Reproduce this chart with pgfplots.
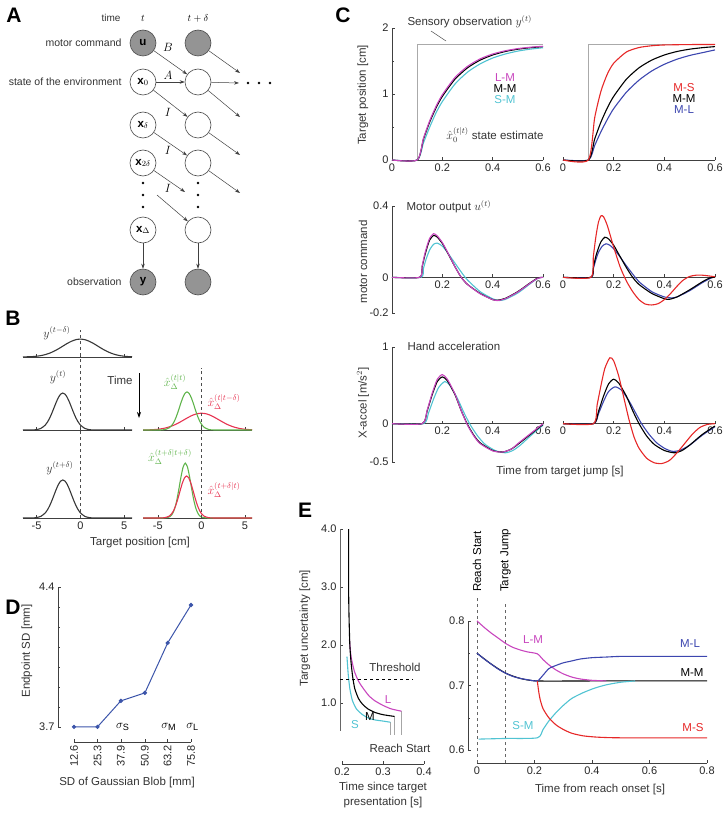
\documentclass[border=0pt]{standalone}
\usepackage{pgfplots}
\pgfplotsset{compat=1.18}
\usepackage{fontspec}
\setmainfont{Liberation Sans}
\usetikzlibrary{arrows.meta}
\definecolor{cmag}{RGB}{200,70,190}
\definecolor{ccyan}{RGB}{80,195,210}
\definecolor{cred}{RGB}{230,40,40}
\definecolor{cblue}{RGB}{60,70,175}
\definecolor{cgreen}{RGB}{95,180,75}
\definecolor{cbred}{RGB}{230,50,80}
\definecolor{cgray}{RGB}{170,170,170}
\definecolor{cdblue}{RGB}{60,85,170}
\definecolor{cdark}{RGB}{55,55,55}

\pgfplotsset{
  base/.style={scale only axis, clip=false, anchor=south west,
    axis line style={black!75}, tick style={black!75, line width=0.4pt},
    tick align=inside, major tick length=3pt, minor tick length=2pt,
    tick label style={font=\fontsize{11}{12}\selectfont, black!85},
    /pgf/number format/assume math mode=true},
  crv/.style={line width=1.1pt, smooth, tension=0.4, mark=none},
  bst/.style={base, width=109pt, height=56pt, ymin=0, ymax=1,
    axis x line*=bottom, axis y line=none, xtick={-5,0,5}},
  cst/.style={base, xmin=0, xmax=0.6},
}

\begin{document}
\begin{tikzpicture}
\path[use as bounding box] (0,0) rectangle (725pt,-813pt);

% ---------------- B ----------------
\begin{axis}[bst, at={(23pt,-357pt)}, xmin=-6.55, xmax=5.9, xticklabels={}]
\addplot[crv, cdark] coordinates {(-6.55,0.002)(-6,0.004)(-5.5,0.007)(-5,0.014)(-4.5,0.025)(-4,0.043)(-3.5,0.069)(-3,0.104)(-2.5,0.146)(-2,0.194)(-1.5,0.242)(-1,0.282)(-0.5,0.310)(0,0.320)(0.5,0.310)(1,0.282)(1.5,0.242)(2,0.194)(2.5,0.146)(3,0.104)(3.5,0.069)(4,0.043)(4.5,0.025)(5,0.014)(5.5,0.007)(5.9,0.004)};
\end{axis}
\begin{axis}[bst, at={(23pt,-430pt)}, xmin=-6.55, xmax=5.9, xticklabels={}]
\addplot[crv, cdark] coordinates {(-6.55,0)(-5.5,0.001)(-5,0.007)(-4.5,0.029)(-4,0.089)(-3.75,0.143)(-3.5,0.214)(-3.25,0.302)(-3,0.400)(-2.75,0.498)(-2.5,0.582)(-2.25,0.640)(-2,0.660)(-1.75,0.640)(-1.5,0.582)(-1.25,0.498)(-1,0.400)(-0.75,0.302)(-0.5,0.214)(-0.25,0.143)(0,0.089)(0.5,0.029)(1,0.007)(1.5,0.001)(2.5,0)(5.9,0)};
\end{axis}
\begin{axis}[bst, at={(23pt,-518pt)}, xmin=-6.55, xmax=5.9]
\addplot[crv, cdark] coordinates {(-6.55,0)(-5.5,0.001)(-5,0.008)(-4.5,0.030)(-4,0.092)(-3.75,0.147)(-3.5,0.221)(-3.25,0.311)(-3,0.412)(-2.75,0.513)(-2.5,0.600)(-2.25,0.659)(-2,0.680)(-1.75,0.659)(-1.5,0.600)(-1.25,0.513)(-1,0.412)(-0.75,0.311)(-0.5,0.221)(-0.25,0.147)(0,0.092)(0.5,0.030)(1,0.008)(1.5,0.001)(2.5,0)(5.9,0)};
\draw[dashed, black!70] (axis cs:0,0) -- (axis cs:0,3.36);
\end{axis}
\begin{axis}[bst, at={(143pt,-430pt)}, xmin=-6.7, xmax=5.8, xticklabels={}]
\addplot[crv, cbred] coordinates {(-6.7,0.002)(-6.5,0.002)(-6,0.003)(-5.5,0.007)(-5,0.013)(-4.5,0.024)(-4,0.041)(-3.5,0.065)(-3,0.097)(-2.5,0.137)(-2,0.182)(-1.5,0.226)(-1,0.265)(-0.5,0.291)(0,0.300)(0.5,0.291)(1,0.265)(1.5,0.226)(2,0.182)(2.5,0.137)(3,0.097)(3.5,0.065)(4,0.041)(4.5,0.024)(5,0.013)(5.5,0.007)(5.8,0.004)};
\addplot[crv, cgreen] coordinates {(-6.7,0)(-5.5,0)(-4.65,0.001)(-4.15,0.009)(-3.65,0.043)(-3.4,0.082)(-3.15,0.143)(-2.9,0.231)(-2.65,0.340)(-2.4,0.461)(-2.15,0.572)(-1.9,0.651)(-1.65,0.680)(-1.4,0.651)(-1.15,0.572)(-0.9,0.461)(-0.65,0.340)(-0.4,0.231)(-0.15,0.143)(0.1,0.082)(0.35,0.043)(0.85,0.009)(1.35,0.001)(2.2,0)(5.8,0)};
\end{axis}
\begin{axis}[bst, at={(143pt,-518pt)}, xmin=-6.7, xmax=5.8]
\addplot[crv, cgreen] coordinates {(-6.7,0)(-4.85,0)(-4.35,0.001)(-3.85,0.009)(-3.6,0.026)(-3.35,0.068)(-3.1,0.154)(-2.85,0.300)(-2.6,0.504)(-2.35,0.729)(-2.1,0.910)(-1.85,0.980)(-1.6,0.910)(-1.35,0.729)(-1.1,0.504)(-0.85,0.300)(-0.6,0.154)(-0.35,0.068)(-0.1,0.026)(0.15,0.009)(0.65,0.001)(1.15,0)(5.8,0)};
\addplot[crv, cbred] coordinates {(-6.7,0)(-5.5,0)(-4.7,0.001)(-4.2,0.006)(-3.7,0.033)(-3.45,0.069)(-3.2,0.129)(-2.95,0.221)(-2.7,0.344)(-2.45,0.484)(-2.2,0.617)(-1.95,0.714)(-1.7,0.750)(-1.45,0.714)(-1.2,0.617)(-0.95,0.484)(-0.7,0.344)(-0.45,0.221)(-0.2,0.129)(0.05,0.069)(0.3,0.033)(0.8,0.006)(1.3,0.001)(2,0)(5.8,0)};
\draw[dashed, black!70] (axis cs:0,0) -- (axis cs:0,2.68);
\end{axis}

% ---------------- C ----------------
\begin{axis}[cst, at={(392pt,-160pt)}, width=151pt, height=132pt, ymin=0, ymax=2,
  axis x line*=bottom, axis y line*=left, xtick={0,0.2,0.4,0.6}, ytick={0,1,2}, minor ytick={0.5,1.5}]
\addplot[cgray, line width=1pt] coordinates {(0.1,0)(0.1,1.75)(0.6,1.75)};
\addplot[crv, ccyan] coordinates {(0,0)(0.1,0)(0.125,0.26)(0.15,0.50)(0.175,0.715)(0.2,0.885)(0.25,1.150)(0.3,1.331)(0.35,1.456)(0.4,1.545)(0.45,1.606)(0.5,1.650)(0.55,1.680)(0.6,1.701)};
\addplot[crv, black] coordinates {(0,0)(0.1,0)(0.125,0.317)(0.15,0.577)(0.175,0.790)(0.2,0.964)(0.25,1.223)(0.3,1.397)(0.35,1.513)(0.4,1.591)(0.45,1.644)(0.5,1.679)(0.55,1.702)(0.6,1.718)};
\addplot[crv, cmag] coordinates {(0,0)(0.1,0)(0.125,0.329)(0.15,0.597)(0.175,0.813)(0.2,0.989)(0.25,1.249)(0.3,1.419)(0.35,1.532)(0.4,1.606)(0.45,1.655)(0.5,1.688)(0.55,1.709)(0.6,1.723)};
\end{axis}
\begin{axis}[cst, at={(563pt,-160pt)}, width=152pt, height=132pt, ymin=0, ymax=2,
  axis x line*=bottom, axis y line=none, xtick={0,0.2,0.4,0.6}]
\addplot[cgray, line width=1pt] coordinates {(0.1,0)(0.1,1.75)(0.6,1.75)};
\addplot[crv, cblue] coordinates {(0,0)(0.1,0)(0.125,0.220)(0.15,0.430)(0.175,0.615)(0.2,0.778)(0.25,1.026)(0.3,1.210)(0.35,1.348)(0.4,1.450)(0.45,1.527)(0.5,1.584)(0.55,1.626)(0.6,1.668)};
\addplot[crv, black] coordinates {(0,0)(0.1,0)(0.125,0.317)(0.15,0.577)(0.175,0.790)(0.2,0.964)(0.25,1.223)(0.3,1.397)(0.35,1.513)(0.4,1.591)(0.45,1.644)(0.5,1.679)(0.55,1.702)(0.6,1.718)};
\addplot[crv, cred] coordinates {(0,0)(0.1,0)(0.125,0.639)(0.15,1.045)(0.175,1.302)(0.2,1.466)(0.25,1.636)(0.3,1.704)(0.35,1.731)(0.4,1.743)(0.5,1.749)(0.6,1.750)};
\end{axis}

\begin{axis}[cst, at={(392pt,-313pt)}, width=151pt, height=107pt, ymin=-0.2, ymax=0.4,
  axis x line*=middle, axis y line*=left, xtick={0.2,0.4,0.6}, ytick={-0.2,0,0.4}]
\addplot[crv, ccyan] coordinates {(0,0)(0.115,0)(0.125,0.05)(0.135,0.10)(0.15,0.155)(0.165,0.185)(0.18,0.192)(0.2,0.175)(0.22,0.14)(0.25,0.08)(0.28,0.02)(0.3,-0.015)(0.35,-0.08)(0.4,-0.12)(0.425,-0.13)(0.45,-0.124)(0.5,-0.088)(0.55,-0.035)(0.58,-0.005)(0.6,0)};
\addplot[crv, black] coordinates {(0,0)(0.11,0)(0.12,0.06)(0.13,0.12)(0.14,0.17)(0.15,0.21)(0.165,0.235)(0.18,0.225)(0.2,0.19)(0.22,0.14)(0.25,0.06)(0.275,0.0)(0.3,-0.04)(0.35,-0.09)(0.4,-0.125)(0.42,-0.128)(0.45,-0.118)(0.5,-0.08)(0.55,-0.03)(0.58,-0.003)(0.6,0.0)};
\addplot[crv, cmag] coordinates {(0,0)(0.11,0)(0.12,0.065)(0.13,0.13)(0.14,0.18)(0.15,0.22)(0.165,0.245)(0.18,0.232)(0.2,0.195)(0.22,0.143)(0.25,0.06)(0.275,0.0)(0.3,-0.04)(0.35,-0.092)(0.4,-0.125)(0.42,-0.13)(0.45,-0.12)(0.5,-0.082)(0.55,-0.032)(0.58,-0.005)(0.6,0.0)};
\end{axis}
\begin{axis}[cst, at={(563pt,-313pt)}, width=152pt, height=107pt, ymin=-0.2, ymax=0.4,
  axis x line*=middle, axis y line=none, xtick={0,0.2,0.4,0.6}]
\addplot[crv, cblue] coordinates {(0,0)(0.11,0)(0.12,0.05)(0.13,0.10)(0.14,0.14)(0.155,0.175)(0.17,0.188)(0.185,0.18)(0.2,0.16)(0.225,0.115)(0.25,0.065)(0.285,0.0)(0.3,-0.025)(0.35,-0.08)(0.4,-0.11)(0.43,-0.115)(0.45,-0.11)(0.5,-0.075)(0.55,-0.03)(0.59,0.0)(0.6,0.002)};
\addplot[crv, black] coordinates {(0,0)(0.11,0)(0.12,0.06)(0.13,0.12)(0.14,0.165)(0.15,0.20)(0.165,0.225)(0.18,0.215)(0.2,0.18)(0.22,0.13)(0.25,0.055)(0.275,0.0)(0.3,-0.04)(0.35,-0.09)(0.4,-0.12)(0.42,-0.123)(0.45,-0.11)(0.5,-0.07)(0.55,-0.025)(0.58,-0.003)(0.6,0.0)};
\addplot[crv, cred] coordinates {(0,0)(0.11,0)(0.12,0.12)(0.13,0.23)(0.14,0.31)(0.15,0.345)(0.16,0.34)(0.175,0.29)(0.2,0.17)(0.225,0.06)(0.25,-0.02)(0.275,-0.08)(0.3,-0.125)(0.325,-0.15)(0.35,-0.155)(0.375,-0.148)(0.4,-0.125)(0.425,-0.09)(0.45,-0.05)(0.475,-0.015)(0.5,0.005)(0.525,0.012)(0.55,0.012)(0.575,0.008)(0.6,0.003)};
\end{axis}

\begin{axis}[cst, at={(392pt,-462pt)}, width=151pt, height=115pt, ymin=-0.5, ymax=1,
  axis x line*=middle, axis y line*=left, xtick={0.2,0.4,0.6}, ytick={-0.5,0,1}]
\addplot[crv, ccyan] coordinates {(0,0)(0.125,0)(0.145,0.14)(0.165,0.32)(0.185,0.47)(0.21,0.55)(0.23,0.50)(0.26,0.33)(0.285,0.15)(0.31,-0.01)(0.34,-0.16)(0.37,-0.27)(0.41,-0.35)(0.45,-0.38)(0.48,-0.35)(0.51,-0.28)(0.55,-0.16)(0.6,-0.02)};
\addplot[crv, black] coordinates {(0,0)(0.12,0)(0.14,0.17)(0.16,0.38)(0.18,0.55)(0.2,0.61)(0.22,0.56)(0.25,0.38)(0.275,0.17)(0.3,-0.01)(0.325,-0.15)(0.35,-0.25)(0.4,-0.35)(0.44,-0.37)(0.475,-0.33)(0.5,-0.27)(0.55,-0.14)(0.6,-0.01)};
\addplot[crv, cmag] coordinates {(0,0)(0.12,0)(0.14,0.18)(0.16,0.40)(0.18,0.58)(0.2,0.64)(0.22,0.58)(0.25,0.39)(0.275,0.17)(0.3,-0.02)(0.325,-0.16)(0.35,-0.26)(0.4,-0.355)(0.44,-0.37)(0.475,-0.33)(0.5,-0.26)(0.55,-0.13)(0.6,0.0)};
\end{axis}
\begin{axis}[cst, at={(563pt,-462pt)}, width=152pt, height=115pt, ymin=-0.5, ymax=1,
  axis x line*=middle, axis y line=none, xtick={0,0.2,0.4,0.6}]
\addplot[crv, cblue] coordinates {(0,0)(0.12,0)(0.14,0.13)(0.16,0.29)(0.18,0.42)(0.205,0.48)(0.23,0.44)(0.26,0.30)(0.285,0.15)(0.31,0.0)(0.34,-0.14)(0.37,-0.25)(0.4,-0.32)(0.43,-0.36)(0.46,-0.35)(0.5,-0.28)(0.55,-0.15)(0.6,-0.04)};
\addplot[crv, black] coordinates {(0,0)(0.12,0)(0.14,0.16)(0.16,0.36)(0.18,0.52)(0.2,0.58)(0.22,0.53)(0.25,0.36)(0.275,0.17)(0.3,0.0)(0.33,-0.16)(0.36,-0.27)(0.4,-0.35)(0.44,-0.38)(0.47,-0.35)(0.5,-0.28)(0.55,-0.14)(0.6,-0.03)};
\addplot[crv, cred] coordinates {(0,0)(0.12,0)(0.135,0.25)(0.15,0.50)(0.165,0.72)(0.185,0.86)(0.2,0.82)(0.22,0.62)(0.24,0.34)(0.26,0.06)(0.28,-0.17)(0.3,-0.32)(0.33,-0.45)(0.36,-0.51)(0.39,-0.52)(0.42,-0.48)(0.45,-0.38)(0.48,-0.26)(0.51,-0.14)(0.54,-0.05)(0.57,-0.01)(0.6,0.0)};
\end{axis}

% ---------------- D ----------------
\begin{axis}[base, at={(58pt,-742pt)}, width=133pt, height=155pt,
  xmin=3.96, xmax=75.8, ymin=3.624, ymax=4.4,
  axis x line*=bottom, axis y line*=left, axis line style={draw=none},
  xtick={12.6,25.3,37.9,50.9,63.2,75.8}, xticklabels={12.6,25.3,37.9,50.9,63.2,75.8},
  xticklabel style={rotate=90, anchor=east},
  ytick={3.7,4.4}, minor ytick={3.8,3.9,4.0,4.1,4.2,4.3}]
\draw[black!75] (axis cs:3.96,3.7) -- (axis cs:3.96,4.4);
\draw[black!75] (axis cs:12.6,3.624) -- (axis cs:75.8,3.624);
\addplot[cdblue, line width=1pt, mark=*, mark size=1.6pt] coordinates {(12.6,3.70)(25.3,3.70)(37.9,3.83)(50.9,3.87)(63.2,4.12)(75.8,4.31)};
\node[font=\fontsize{13}{13}\selectfont] at (axis cs:39.0,3.70) {$\sigma_{\mathrm{S}}$};
\node[font=\fontsize{13}{13}\selectfont] at (axis cs:63.8,3.70) {$\sigma_{\mathrm{M}}$};
\node[font=\fontsize{13}{13}\selectfont] at (axis cs:76.6,3.70) {$\sigma_{\mathrm{L}}$};
\end{axis}

% ---------------- E left ----------------
\begin{axis}[base, at={(340pt,-764pt)}, width=84pt, height=235pt,
  xmin=0.195, xmax=0.4, ymin=-0.05, ymax=4.0,
  axis x line*=bottom, axis y line*=left, axis line style={draw=none},
  xtick={0.2,0.3,0.4}, ytick={1,2,3,4},
  yticklabel style={/pgf/number format/.cd, fixed, fixed zerofill, precision=1}]
\draw[black!60] (axis cs:0.195,0.52) -- (axis cs:0.195,4.0);
\draw[black!75] (axis cs:0.2,-0.05) -- (axis cs:0.4,-0.05);
\draw[gray!70, line width=0.9pt] (axis cs:0.318,0.67) -- (axis cs:0.318,0.45);
\draw[gray!70, line width=0.9pt] (axis cs:0.328,0.77) -- (axis cs:0.328,0.45);
\draw[gray!70, line width=0.9pt] (axis cs:0.345,0.86) -- (axis cs:0.345,0.45);
\addplot[crv, ccyan] coordinates {(0.212,1.8)(0.215,1.5)(0.219,1.25)(0.225,1.05)(0.235,0.90)(0.25,0.80)(0.265,0.74)(0.28,0.71)(0.3,0.69)(0.318,0.67)};
\addplot[crv, cmag] coordinates {(0.218,2.1)(0.222,1.8)(0.23,1.55)(0.24,1.38)(0.25,1.27)(0.265,1.13)(0.28,1.04)(0.3,0.96)(0.32,0.90)(0.345,0.86)};
\addplot[crv, black] coordinates {(0.216,4.0)(0.216,3.0)(0.217,2.5)(0.219,2.0)(0.222,1.7)(0.226,1.45)(0.231,1.25)(0.24,1.08)(0.25,0.98)(0.263,0.90)(0.28,0.84)(0.3,0.80)(0.328,0.77)};
\draw[dashed, black, line width=1pt] (axis cs:0.195,1.4) -- (axis cs:0.371,1.4);
\end{axis}

% ---------------- E right ----------------
\begin{axis}[base, at={(468pt,-763pt)}, width=239pt, height=168pt,
  xmin=-0.031, xmax=0.8, ymin=0.58, ymax=0.84,
  axis x line*=bottom, axis y line*=left, axis line style={draw=none},
  xtick={0,0.2,0.4,0.6,0.8}, ytick={0.6,0.7,0.8}, minor ytick={0.65,0.75}]
\draw[black!75] (axis cs:-0.031,0.6) -- (axis cs:-0.031,0.8);
\draw[black!75] (axis cs:0,0.58) -- (axis cs:0.8,0.58);
\draw[dashed, black!60] (axis cs:0,0.58) -- (axis cs:0,0.837);
\draw[dashed, black!60] (axis cs:0.1,0.58) -- (axis cs:0.1,0.827);
\node[rotate=90, anchor=west, inner sep=1pt, font=\fontsize{11.5}{12}\selectfont] at (axis cs:0,0.843) {Reach Start};
\node[rotate=90, anchor=west, inner sep=1pt, font=\fontsize{11.5}{12}\selectfont] at (axis cs:0.1,0.843) {Target Jump};
\addplot[crv, black] coordinates {(0,0.75)(0.05,0.733)(0.1,0.719)(0.15,0.711)(0.21,0.707)(0.4,0.707)(0.8,0.707)};
\addplot[crv, cmag] coordinates {(0,0.80)(0.025,0.79)(0.05,0.781)(0.075,0.773)(0.1,0.765)(0.125,0.759)(0.15,0.755)(0.175,0.752)(0.21,0.749)(0.23,0.740)(0.25,0.732)(0.275,0.724)(0.3,0.718)(0.33,0.713)(0.36,0.710)(0.4,0.708)(0.45,0.707)};
\addplot[crv, cblue] coordinates {(0,0.75)(0.025,0.741)(0.05,0.733)(0.075,0.725)(0.1,0.719)(0.125,0.714)(0.15,0.711)(0.175,0.709)(0.21,0.707)(0.23,0.716)(0.25,0.726)(0.275,0.731)(0.3,0.735)(0.33,0.738)(0.36,0.741)(0.4,0.743)(0.45,0.744)(0.5,0.745)(0.6,0.745)(0.8,0.745)};
\addplot[crv, ccyan] coordinates {(0.006,0.617)(0.1,0.618)(0.21,0.619)(0.23,0.632)(0.25,0.645)(0.275,0.658)(0.3,0.669)(0.33,0.680)(0.37,0.689)(0.41,0.696)(0.45,0.701)(0.5,0.705)(0.55,0.707)};
\addplot[crv, cred] coordinates {(0.21,0.707)(0.215,0.69)(0.22,0.678)(0.23,0.664)(0.25,0.650)(0.275,0.639)(0.3,0.632)(0.33,0.626)(0.37,0.622)(0.42,0.620)(0.5,0.619)(0.8,0.619)};
\end{axis}

% ---------------- annotations and panel A ----------------
\begin{scope}[x=1pt, y=-1pt, font=\fontsize{11.5}{12}\selectfont]
\tikzset{pl/.style={font=\bfseries\fontsize{21}{21}\selectfont},
  nd/.style={circle, draw=black!70, minimum size=26pt, inner sep=0pt, line width=0.6pt, fill=white},
  gn/.style={nd, fill=black!42},
  ar/.style={-{Stealth[length=5pt, width=3.5pt]}, black!75, line width=0.5pt},
  tl/.style={black!80}, al/.style={black!80, anchor=east, font=\fontsize{10.5}{11}\selectfont}}
% panel letters
\node[pl] at (14,15) {A};
\node[pl] at (13,318) {B};
\node[pl] at (343,15) {C};
\node[pl] at (13,607) {D};
\node[pl] at (305,510) {E};

% A
\node[tl, anchor=east, font=\fontsize{10}{11}\selectfont] at (124,18) {time};
\node[font=\fontsize{10}{11}\selectfont] at (143,18) {$t$};
\node[font=\fontsize{10}{11}\selectfont] at (198,18) {$t+\delta$};
\node[al] at (125,43) {motor command};
\node[al] at (125,82) {state of the environment};
\node[al] at (125,282) {observation};
\node[gn] (u1) at (143,43) {$\mathbf{u}$};
\node[gn] (u2) at (198,43) {};
\node[nd] (a1) at (143,82) {$\mathbf{x}_0$};
\node[nd] (a2) at (198,82) {};
\node[nd] (b1) at (143,125) {$\mathbf{x}_\delta$};
\node[nd] (b2) at (198,125) {};
\node[nd] (c1) at (143,163) {$\mathbf{x}_{2\delta}$};
\node[nd] (c2) at (198,163) {};
\node[nd] (d1) at (143,230) {$\mathbf{x}_\Delta$};
\node[nd] (d2) at (198,230) {};
\node[gn] (y1) at (143,282) {$\mathbf{y}$};
\node[gn] (y2) at (198,282) {};
\foreach \yy in {183,195,207} {\fill (143,\yy) circle (1.3pt); \fill (198,\yy) circle (1.3pt);}
\foreach \xx in {248,259,270} {\fill (\xx,83) circle (1.3pt);}
\draw[ar] (u1) -- (a2);
\draw[ar] (a1) -- (a2);
\draw[ar] (a1) -- (b2);
\draw[ar] (b1) -- (c2);
\draw[ar] (c1) -- (185,192);
\draw[ar] (157,195) -- (d2);
\draw[ar] (u2) -- (240,73);
\draw[ar] (a2) -- (239,83);
\draw[ar] (a2) -- (240,117);
\draw[ar] (b2) -- (240,155);
\draw[ar] (c2) -- (240,193);
\draw[ar] (d1) -- (y1);
\draw[ar] (d2) -- (y2);
\node at (168,47) {$B$};
\node at (168,75) {$A$};
\node at (168,112) {$I$};
\node at (168,150) {$I$};
\node at (168,188) {$I$};

% B
\node[cdark] at (57,333) {$y^{(t-\delta)}$};
\node[cdark] at (58,377) {$y^{(t)}$};
\node[cdark] at (60,468) {$y^{(t+\delta)}$};
\node[tl] at (120,380) {Time};
\draw[-{Stealth[length=6pt, width=4pt]}, black, line width=0.8pt] (139,373) -- (139,418);
\node[cgreen] at (175,382) {$\hat{x}_{\Delta}^{(t|t)}$};
\node[cbred] at (224,402) {$\hat{x}_{\Delta}^{(t|t-\delta)}$};
\node[cgreen] at (170,457) {$\hat{x}_{\Delta}^{(t+\delta|t+\delta)}$};
\node[cbred] at (224,490) {$\hat{x}_{\Delta}^{(t+\delta|t)}$};
\node[tl] at (140,543) {Target position [cm]};

% C
\node[tl, anchor=west] at (404,22) {Sensory observation $y^{(t)}$};
\draw[black!70, line width=0.5pt] (431,31) -- (446,41);
\node[cmag] at (505,78) {L-M};
\node at (505,89) {M-M};
\node[ccyan] at (505,100) {S-M};
\node[cred] at (684,88) {M-S};
\node at (684,99) {M-M};
\node[cblue] at (684,110) {M-L};
\node[tl] at (495,135) {$\hat{x}_0^{(t|t)}$ state estimate};
\node[tl, anchor=west] at (403,207) {Motor output $u^{(t)}$};
\node[tl, anchor=west] at (404,346) {Hand acceleration};
\node[tl, rotate=90] at (363,95) {Target position [cm]};
\node[tl, rotate=90] at (363,262) {motor command};
\node[tl, rotate=90] at (363,403) {X-accel [m/s$^2$]};
\node[tl] at (560,472) {Time from target jump [s]};

% D
\node[tl, rotate=90] at (27,651) {Endpoint SD [mm]};
\node[tl] at (127,783) {SD of Gaussian Blob [mm]};

% E
\node[tl, rotate=90] at (305,628) {Target uncertainty [cm]};
\node[tl] at (395,667) {Threshold};
\node[cmag] at (388,700) {L};
\node at (370,717) {M};
\node[ccyan] at (355,725) {S};
\node[tl] at (400,748) {Reach Start};
\node[tl] at (383,788) {Time since target};
\node[tl] at (383,803) {presentation [s]};
\node[cmag] at (533,640) {L-M};
\node[cblue] at (690,644) {M-L};
\node at (692,673) {M-M};
\node[ccyan] at (523,726) {S-M};
\node[cred] at (693,728) {M-S};
\node[tl] at (600,790) {Time from reach onset [s]};
\end{scope}
\end{tikzpicture}
\end{document}
